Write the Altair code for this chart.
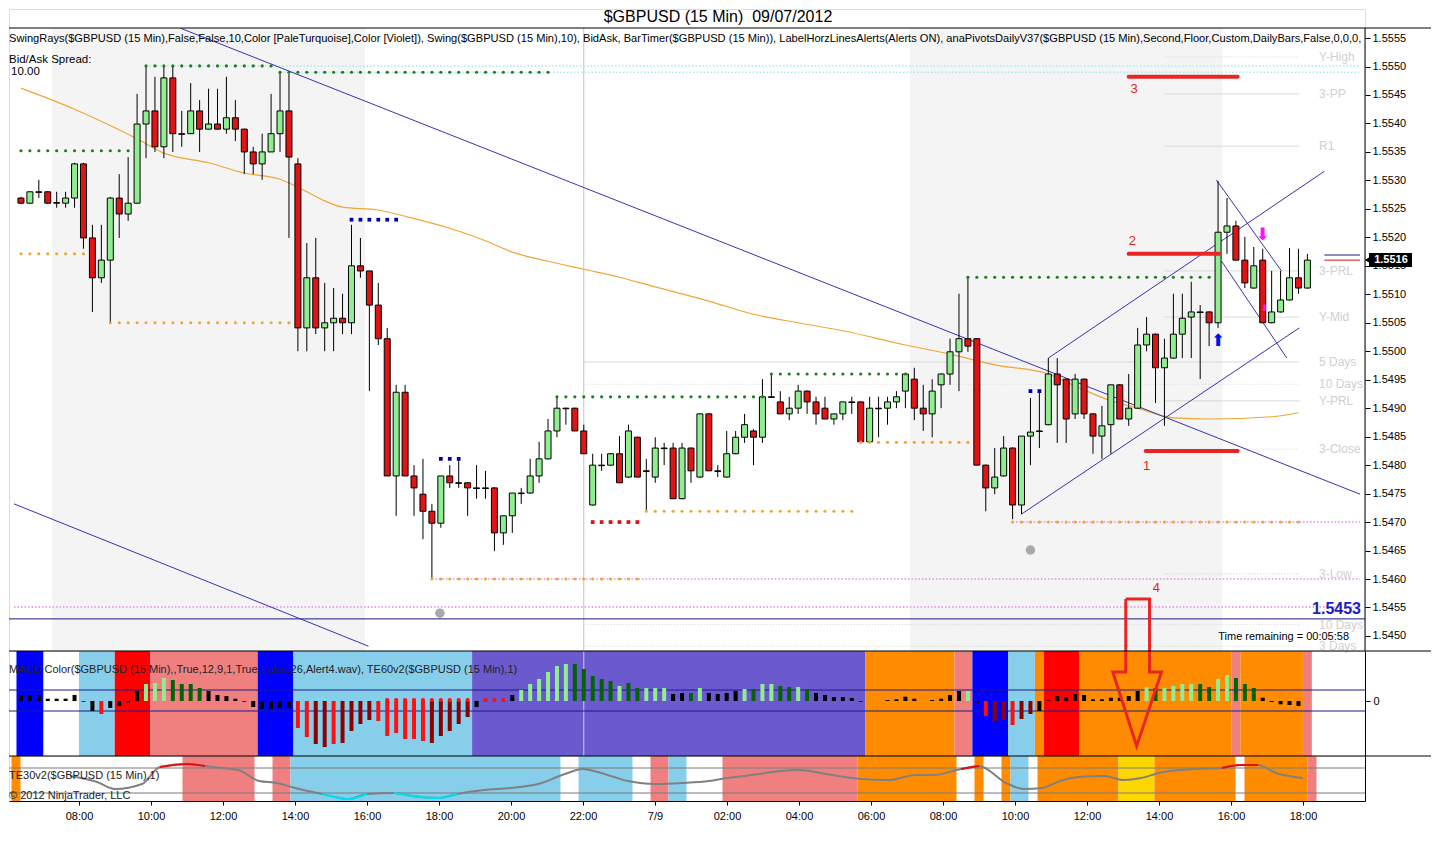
import altair as alt
import pandas as pd

# ---------------------------------------------------------------- data
bar_open = [1.55269,1.55260,1.55280,1.55280,1.55260,1.55260,1.55269,1.55329,1.55199,1.55129,
            1.55160,1.55269,1.55241,1.55260,1.55399,1.55422,1.55359,1.55480,1.55382,1.55382,
            1.55422,1.55390,1.55399,1.55390,1.55410,1.55390,1.55350,1.55329,1.55350,1.55382,
            1.55422,1.55329,1.55041,1.55129,1.55041,1.55050,1.55058,1.55050,1.55150,1.55141,
            1.55081,1.55022,1.54781,1.54928,1.54781,1.54749,1.54719,1.54698,1.54781,1.54769,
            1.54769,1.54760,1.54760,1.54760,1.54681,1.54711,1.54751,1.54751,1.54781,1.54811,
            1.54860,1.54900,1.54900,1.54860,1.54730,1.54800,1.54800,1.54820,1.54779,1.54849,
            1.54790,1.54779,1.54830,1.54830,1.54741,1.54830,1.54779,1.54890,1.54790,1.54779,
            1.54820,1.54849,1.54860,1.54849,1.54920,1.54911,1.54890,1.54900,1.54930,1.54911,
            1.54900,1.54881,1.54890,1.54911,1.54911,1.54841,1.54900,1.54900,1.54911,1.54930,
            1.54951,1.54900,1.54890,1.54941,1.54960,1.54999,1.55022,1.55022,1.54800,1.54760,
            1.54781,1.54830,1.54730,1.54851,1.54860,1.54871,1.54960,1.54951,1.54890,1.54951,
            1.54890,1.54851,1.54871,1.54941,1.54881,1.54900,1.55011,1.55030,1.54971,1.54988,
            1.55030,1.55060,1.55069,1.55069,1.55050,1.55209,1.55220,1.55160,1.55111,1.55160,
            1.55050,1.55069,1.55090,1.55129,1.55111]
bar_high = [1.55271,1.55281,1.55301,1.55281,1.55280,1.55280,1.55331,1.55331,1.55222,1.55222,
            1.55271,1.55311,1.55341,1.55452,1.55501,1.55482,1.55501,1.55501,1.55422,1.55471,
            1.55441,1.55461,1.55461,1.55482,1.55441,1.55391,1.55359,1.55382,1.55452,1.55490,
            1.55487,1.55339,1.55190,1.55199,1.55120,1.55111,1.55101,1.55222,1.55199,1.55141,
            1.55120,1.55041,1.54941,1.54941,1.54800,1.54811,1.54732,1.54781,1.54800,1.54811,
            1.54770,1.54800,1.54790,1.54761,1.54711,1.54751,1.54760,1.54811,1.54841,1.54881,
            1.54921,1.54901,1.54901,1.54871,1.54820,1.54820,1.54821,1.54851,1.54871,1.54850,
            1.54811,1.54849,1.54839,1.54839,1.54839,1.54831,1.54891,1.54891,1.54800,1.54860,
            1.54860,1.54890,1.54863,1.54951,1.54960,1.54930,1.54920,1.54941,1.54931,1.54920,
            1.54920,1.54890,1.54911,1.54920,1.54912,1.54920,1.54920,1.54920,1.54930,1.54961,
            1.54971,1.54941,1.54951,1.54961,1.55022,1.55101,1.55132,1.55023,1.54801,1.54830,
            1.54851,1.54831,1.54851,1.54918,1.54930,1.54988,1.54988,1.54952,1.54960,1.54952,
            1.54891,1.54904,1.54941,1.54942,1.54960,1.55041,1.55060,1.55031,1.55022,1.55101,
            1.55101,1.55122,1.55081,1.55070,1.55299,1.55269,1.55229,1.55201,1.55183,1.55180,
            1.55141,1.55141,1.55181,1.55180,1.55171]
bar_low = [1.55259,1.55259,1.55269,1.55259,1.55252,1.55252,1.55252,1.55180,1.55069,1.55120,
           1.55051,1.55199,1.55229,1.55259,1.55339,1.55350,1.55339,1.55350,1.55359,1.55382,
           1.55350,1.55390,1.55390,1.55382,1.55369,1.55311,1.55311,1.55301,1.55350,1.55350,
           1.55199,1.55000,1.55000,1.55030,1.55000,1.55000,1.55030,1.55030,1.55129,1.54930,
           1.55011,1.54781,1.54711,1.54781,1.54711,1.54670,1.54602,1.54690,1.54760,1.54760,
           1.54711,1.54741,1.54741,1.54649,1.54660,1.54681,1.54732,1.54750,1.54769,1.54810,
           1.54849,1.54871,1.54860,1.54820,1.54729,1.54790,1.54799,1.54769,1.54778,1.54779,
           1.54719,1.54769,1.54800,1.54741,1.54740,1.54769,1.54778,1.54790,1.54779,1.54778,
           1.54819,1.54839,1.54800,1.54839,1.54919,1.54890,1.54879,1.54890,1.54890,1.54871,
           1.54881,1.54871,1.54879,1.54890,1.54841,1.54840,1.54849,1.54871,1.54900,1.54900,
           1.54879,1.54860,1.54849,1.54900,1.54941,1.54930,1.54999,1.54800,1.54719,1.54749,
           1.54780,1.54705,1.54714,1.54800,1.54830,1.54870,1.54839,1.54839,1.54881,1.54881,
           1.54820,1.54811,1.54820,1.54881,1.54869,1.54899,1.55000,1.54909,1.54869,1.54987,
           1.54988,1.54988,1.54951,1.55009,1.55041,1.55171,1.55160,1.55111,1.55110,1.55050,
           1.55049,1.55068,1.55089,1.55101,1.55110]
bar_close = [1.55260,1.55280,1.55279,1.55260,1.55261,1.55269,1.55329,1.55199,1.55129,1.55160,
             1.55269,1.55241,1.55260,1.55399,1.55422,1.55359,1.55480,1.55382,1.55381,1.55422,
             1.55390,1.55399,1.55390,1.55410,1.55390,1.55350,1.55329,1.55350,1.55382,1.55422,
             1.55341,1.55041,1.55129,1.55041,1.55050,1.55058,1.55050,1.55150,1.55141,1.55081,
             1.55022,1.54781,1.54928,1.54781,1.54760,1.54719,1.54698,1.54781,1.54769,1.54768,
             1.54760,1.54759,1.54759,1.54681,1.54711,1.54751,1.54750,1.54781,1.54811,1.54860,
             1.54900,1.54899,1.54860,1.54820,1.54800,1.54799,1.54820,1.54769,1.54860,1.54779,
             1.54789,1.54830,1.54829,1.54741,1.54830,1.54790,1.54890,1.54790,1.54789,1.54820,
             1.54849,1.54871,1.54849,1.54920,1.54919,1.54890,1.54900,1.54930,1.54911,1.54890,
             1.54881,1.54890,1.54911,1.54910,1.54841,1.54900,1.54899,1.54911,1.54920,1.54960,
             1.54900,1.54890,1.54930,1.54960,1.54999,1.55022,1.55009,1.54800,1.54760,1.54779,
             1.54830,1.54730,1.54851,1.54858,1.54859,1.54960,1.54941,1.54881,1.54951,1.54890,
             1.54851,1.54869,1.54941,1.54881,1.54900,1.55011,1.55030,1.54971,1.54988,1.55030,
             1.55058,1.55069,1.55068,1.55050,1.55209,1.55220,1.55160,1.55120,1.55150,1.55050,
             1.55069,1.55090,1.55129,1.55111,1.55160]

sma_bar = [0,6,13,16,21,25,29,32,34,36,40,43,48,52,55,59,63,67,71,77,
           82,87,92,99,104,109,115,118,122,125,129,133,140,143]
sma_price = [1.55462,1.55425,1.55373,1.55348,1.55331,1.55313,1.55302,1.55280,1.55264,1.55253,
             1.55248,1.55237,1.55216,1.55194,1.55174,1.55158,1.55144,1.55130,1.55113,1.55088,
             1.55065,1.55050,1.55036,1.55011,1.54995,1.54976,1.54960,1.54939,1.54913,1.54900,
             1.54883,1.54881,1.54885,1.54892]

swing_start = [0,14,29,60,84,106, 0,10,46,70,94,111, 37,47,113, 64]
swing_end   = [12,28,59,83,99,133, 7,30,69,93,106,143, 42,49,114, 69]
swing_price = [1.55352,1.55501,1.55490,1.54920,1.54960,1.55130,
               1.55171,1.55050,1.54600,1.54719,1.54840,1.54700,
               1.55231,1.54811,1.54930, 1.54700]
swing_kind  = ["hi","hi","hi","hi","hi","hi","lo","lo","lo","lo","lo","lo","hb","hb","hb","lr"]

ray_start = [14, 29, 46, 111, -0.7778]
ray_price = [1.55501, 1.55490, 1.54600, 1.54700, 1.54551]
ray_color = ["#a8e8ee", "#a8e8ee", "#e68ae6", "#e68ae6", "#e68ae6"]

pivot_label = ["Y-High","3-PP","R1","3-PRL","Y-Mid","5 Days","10 Days","Y-PRL","3-Close","3-Low","10 Days","3 Days"]
pivot_start = [128,128,128,128,128,63,63,128,128,128,63,63]
pivot_price = [1.55517,1.55452,1.55360,1.55141,1.55060,1.54981,1.54942,1.54913,1.54828,1.54609,1.54520,1.54482]
pivot_dash  = ["dot","solid","solid","solid","solid","solid","dot","solid","dot","dot","dot","dot"]
pivot_color = ["#d4d4d4","#d4d4d4","#d4d4d4","#d4d4d4","#d4d4d4","#d4d4d4","#d4d4d4","#d4d4d4","#d4d4d4","#eeaaee","#d4d4d4","#d4d4d4"]

trend_x1 = [17.9, -0.7778, 112.0, 115.0, 133.8, 134.4]
trend_p1 = [1.55567, 1.54732, 1.54714, 1.54988, 1.55301, 1.55158]
trend_x2 = [149.889, 38.9, 143.1, 145.9, 141.1, 141.7]
trend_p2 = [1.54749, 1.54482, 1.55041, 1.55316, 1.55141, 1.54988]

sess_start = [3.5, 99.5]
sess_end = [38.5, 134.5]

ann_x1 = [124.0, 124.0, 125.9]
ann_x2 = [136.2, 134.1, 136.2]
ann_price = [1.55482, 1.55171, 1.54825]
ann_label = ["3", "2", "1", "4"]
ann_label_x = [124.6, 124.4, 126.0, 127.1]
ann_label_p = [1.55460, 1.55194, 1.54798, 1.54584]

arrow_bar = [134.0, 139.0, 139.2]
arrow_price = [1.55018, 1.55204, 1.55076]
arrow_glyph = ["\u2b06", "\u2b07", "\u2b07"]
arrow_color = ["#0010ff", "#ff10ff", "#ff10ff"]

circle_bar = [46.9, 113.0]
circle_price = [1.54540, 1.54651]

price_ticks = [1.5450,1.5455,1.5460,1.5465,1.5470,1.5475,1.5480,1.5485,1.5490,1.5495,1.5500,
               1.5505,1.5510,1.5515,1.5520,1.5525,1.5530,1.5535,1.5540,1.5545,1.5550,1.5555]
time_tick_bar = [7,15,23,31,39,47,55,63,71,79,87,95,103,111,119,127,135,143]
time_tick_label = ["08:00","10:00","12:00","14:00","16:00","18:00","20:00","22:00","7/9",
                   "02:00","04:00","06:00","08:00","10:00","12:00","14:00","16:00","18:00"]

# MACD histogram (x1e-5) and colour codes
macd_hist = [6,6,6,2.3,2.3,2.3,6,-0.7,-10,-13,
             -7,-5,-1.5,10,17,18,23,21,17,17,
             13,10,6,5,2.3,-0.7,-6,-8,-8,-7,
             -7,-27,-36,-43,-46,-43,-42,-30,-23,-19,
             -20,-35,-32,-38,-38,-40,-42,-35,-30,-23,
             -16,-6,-1,-1,-1,6,11,17,22,29,
             35,37,37,32,25,22,20,15,18,13,
             13,13,13,7,8,8,13,8,7,8,
             10,12,12,17,17,15,14,14,12,8,
             6,4,4,3,-0.7,0,0,1,1.7,4.3,
             2.3,0,1,2.3,6,10,10,-1.7,-15,-20,
             -19,-24,-18,-13,-10,0.7,5,4,7,6,
             1.7,1.7,3.3,3.3,5,10,14,13,13,15,
             17,17,17,14,22,26,23,17,13,3.3,
             -1,-3.3,-4,-5,0]
macd_code = ["k","k","k","k","k","k","k","k","k","r",
             "k","k","k","k","lg","lg","lg","dg","dg","dg",
             "dg","k","k","k","k","k","k","k","k","k",
             "k","r","r","dr","dr","r","dr","dr","dr","dr",
             "r","r","r","r","r","r","dr","dr","dr","dr",
             "dr","k","r","r","r","k","lg","lg","lg","lg",
             "lg","lg","dg","dg","dg","dg","dg","lg","dg","dg",
             "lg","lg","lg","k","k","dg","lg","k","k","k",
             "k","lg","dg","lg","lg","dg","dg","lg","dg","k",
             "k","k","k","k","k","k","k","k","k","k",
             "k","k","k","k","k","k","lg","k","r","dr",
             "dr","r","dr","dr","k","k","k","k","k","k",
             "k","k","k","k","k","k","lg","dg","lg","lg",
             "lg","lg","dg","dg","lg","lg","dg","dg","dg","k",
             "k","k","k","k","k"]
macd_dot_bar = [41,42,43,44,45,46,47,48,49,50,52,53,54]
macd_levels = [11, -10]

macd_band_start = [0,7,11,15,27,31,51,95,105,107,111,114,115,119,136,137,144]
macd_band_end   = [2,10,14,26,30,50,94,104,106,110,113,114,118,135,136,143,144]
macd_band_color = ["#0000ff","#87ceeb","#ff0000","#f08080","#0000ff","#87ceeb","#6a5acd",
                   "#ff8c00","#f08080","#0000ff","#87ceeb","#ff8c00","#ff0000","#ff8c00",
                   "#f08080","#ff8c00","#f08080"]

te_band_start = [0,19,29,31,63,71,73,79,94,107,110,111,114,123,127,137,144]
te_band_end   = [0,26,30,60,68,72,74,93,104,107,110,112,122,126,135,143,144]
te_band_color = ["#ff8c00","#f08080","#f08080","#87ceeb","#87ceeb","#f08080","#87ceeb",
                 "#f08080","#ff8c00","#ff8c00","#ff8c00","#87ceeb","#ff8c00","#ffd700",
                 "#ff8c00","#ff8c00","#f08080"]

te_bar = [6,9,11,14,16,19,21,23,25,27,29,31,34,37,39,42,44,47,49,52,
          55,58,61,63,65,68,71,74,77,79,81,85,87,90,94,97,100,102,105,107,
          110,112,114,116,118,121,123,125,127,131,134,136,138,140,143]
te_value = [0.36,-0.12,-0.68,-0.28,1.08,1.32,1.16,1.0,0.76,-0.04,
            -0.2,-0.6,-1.08,-1.48,-1.08,-1.0,-1.24,-1.4,-1.08,-0.76,
            -0.6,-0.28,0.52,0.92,0.6,-0.04,-0.28,-0.2,-0.04,0.2,
            0.36,0.76,0.84,0.52,0.12,0.04,0.44,0.44,0.92,1.16,
            -0.2,-0.68,-0.6,-0.04,0.28,0.36,0.04,0.2,0.6,0.92,
            1.0,1.24,1.24,0.6,0.2]
te_red_segments = [[16,19,21],[105,107],[134,136,138]]
te_cyan_segments = [[34,37,39],[42,44,47,49]]
te_levels = [1.0, -1.0]

big_arrow_bar = [123.67,126.33,126.33,127.67,124.89,122.22,123.67,123.67]
big_arrow_val = [102,102,29,29,-45,29,29,102]

title_text = "$GBPUSD (15 Min) \u00a009/07/2012"
indicator_text = ("SwingRays($GBPUSD (15 Min),False,False,10,Color [PaleTurquoise],Color [Violet]), "
                  "Swing($GBPUSD (15 Min),10), BidAsk, BarTimer($GBPUSD (15 Min)), "
                  "LabelHorzLinesAlerts(Alerts ON), anaPivotsDailyV37($GBPUSD (15 Min),Second,Floor,"
                  "Custom,DailyBars,False,0,0,0,")
macd_text = "MACD Color($GBPUSD (15 Min),,True,12,9,1,True,False,26,Alert4.wav), TE60v2($GBPUSD (15 Min),1)"
te_text = "TE30v2($GBPUSD (15 Min),1)"

# ---------------------------------------------------------------- layout
W = 1356
EXT = 66  # frame lines continue right of the price axis
H_MAIN, H_MACD, H_TE = 642, 105, 45
X_DOMAIN = [-0.7778, 149.889]
P_DOMAIN = [1.544736, 1.55601]
P_TOP = 1.555676
M_DOMAIN = [-55, 50]
T_DOMAIN = [-1.64, 1.96]
FONT = "Liberation Sans"
one = pd.DataFrame({"a": [0]})

XS = alt.Scale(domain=X_DOMAIN, nice=False, zero=False)
label_expr = ("[" + ",".join("'%s'" % t for t in time_tick_label) + "][indexof(["
              + ",".join(str(b) for b in time_tick_bar) + "], datum.value)]")
x_axis = alt.Axis(values=time_tick_bar, labelExpr=label_expr, title=None, grid=False,
                  tickSize=4, tickColor="black", domainColor="black", labelColor="black",
                  labelFontSize=11, labelFont=FONT, labelPadding=5, labelOverlap=False,
                  labelFlush=False)


def XN(f):
    return alt.X(f, type="quantitative", scale=XS, axis=None)


def XT(f):
    return alt.X(f, type="quantitative", scale=XS, axis=x_axis)


main_axis = alt.Axis(orient="right", values=price_ticks, format=".4f", title=None, grid=False,
                     domain=False, tickSize=5, tickColor="black", labelColor="black",
                     labelFontSize=11, labelFont=FONT, labelPadding=2)
macd_axis = alt.Axis(orient="right", values=[0], title=None, grid=False, domainColor="black",
                     tickSize=5, tickColor="black", labelColor="black", labelFontSize=11,
                     labelFont=FONT, labelPadding=3)
te_axis = alt.Axis(orient="right", title=None, grid=False, labels=False, ticks=False,
                   domainColor="black")


def YM(f):
    return alt.Y(f, type="quantitative", scale=alt.Scale(domain=P_DOMAIN, nice=False, zero=False), axis=main_axis)


def YMA(f):
    return alt.Y(f, type="quantitative", scale=alt.Scale(domain=M_DOMAIN, nice=False, zero=False), axis=macd_axis)


def YT(f):
    return alt.Y(f, type="quantitative", scale=alt.Scale(domain=T_DOMAIN, nice=False, zero=False), axis=te_axis)


# ---------------------------------------------------------------- main panel
bars = pd.DataFrame({"i": list(range(len(bar_open))), "o": bar_open, "h": bar_high,
                     "l": bar_low, "c": bar_close})
sess = pd.DataFrame({"s": sess_start, "e": sess_end, "t": P_TOP, "b": P_DOMAIN[0]})
divider = pd.DataFrame({"i": [63], "t": [P_TOP], "b": [P_DOMAIN[0]]})
pivots = pd.DataFrame({"s": pivot_start, "e": 143.1, "p": pivot_price, "dash": pivot_dash,
                       "col": pivot_color, "lab": pivot_label, "lx": 145.3})
rays = pd.DataFrame({"s": ray_start, "e": X_DOMAIN[1], "p": ray_price, "col": ray_color})
trends = pd.DataFrame({"x1": trend_x1, "p1": trend_p1, "x2": trend_x2, "p2": trend_p2})
sma = pd.DataFrame({"i": sma_bar, "p": sma_price})
rows = []
for s, e, p, k in zip(swing_start, swing_end, swing_price, swing_kind):
    for b in range(s, e + 1):
        rows.append({"i": b, "p": p, "k": k})
swings = pd.DataFrame(rows)
ann = pd.DataFrame({"x1": ann_x1, "x2": ann_x2, "p": ann_price})
ann_lab = pd.DataFrame({"i": ann_label_x, "p": ann_label_p, "t": ann_label})
arrows = pd.DataFrame({"i": arrow_bar, "p": arrow_price, "g": arrow_glyph, "col": arrow_color,
                       "sz": [17, 17, 9]})
circles = pd.DataFrame({"i": circle_bar, "p": circle_price})
level = pd.DataFrame({"p": [1.5453]})
last_lines = pd.DataFrame({"s": [145.9, 145.9], "e": [X_DOMAIN[1], X_DOMAIN[1]],
                           "p": [1.55169, 1.55160], "col": ["#1a1a8c", "#d01010"]})
frame_right = pd.DataFrame({"t": [P_TOP], "b": [P_DOMAIN[0]]})

main_layers = [
    alt.Chart(sess).mark_rect(color="#f4f4f4").encode(x=XN("s"), x2="e", y=YM("t"), y2="b"),
    alt.Chart(divider).mark_rule(color="#c4c4c4").encode(x=XN("i"), y=YM("t"), y2="b"),
    alt.Chart(pivots).mark_rule(strokeWidth=1).encode(
        x=XN("s"), x2="e", y=YM("p"), color=alt.Color("col:N", scale=None),
        strokeDash=alt.StrokeDash("dash:N", scale=alt.Scale(domain=["solid", "dot"], range=[[1, 0], [1, 2]]), legend=None)),
    alt.Chart(pivots).mark_text(align="left", baseline="middle", fontSize=12, color="#d0d0d0").encode(
        x=XN("lx"), y=YM("p"), text="lab:N"),
    alt.Chart(rays).mark_rule(strokeDash=[1.5, 2], strokeWidth=1.5).encode(
        x=XN("s"), x2="e", y=YM("p"), color=alt.Color("col:N", scale=None)),
    alt.Chart(level).mark_rule(color="#1a1a80", strokeWidth=1).encode(
        x=alt.value(0), x2=alt.value(W), y=YM("p")),
    alt.Chart(sma).mark_line(color="#f0a637", strokeWidth=1.2, interpolate="monotone").encode(
        x=XN("i"), y=YM("p")),
    alt.Chart(trends).mark_rule(color="#3434b0", strokeWidth=1).encode(
        x=XN("x1"), x2="x2", y=YM("p1"), y2="p2"),
    alt.Chart(bars).mark_rule(color="black", strokeWidth=1).encode(x=XN("i"), y=YM("l"), y2="h"),
    alt.Chart(bars).mark_bar(size=6, stroke="black", strokeWidth=1).encode(
        x=XN("i"), y=YM("o"), y2="c",
        fill=alt.condition("datum.c > datum.o", alt.value("#90ee90"), alt.value("#e01414"))),
]
dot_styles = {"hi": ("#1b7d1b", "circle", 10), "lo": ("#f0a834", "circle", 10),
              "hb": ("#0000a8", "square", 14), "lr": ("#d41414", "square", 14)}
for k, (col, shp, sz) in dot_styles.items():
    main_layers.append(
        alt.Chart(swings[swings.k == k]).mark_point(filled=True, shape=shp, size=sz, color=col,
                                                    opacity=1, strokeWidth=0).encode(
            x=XN("i"), y=YM("p")))
main_layers += [
    alt.Chart(ann).mark_rule(color="#e82424", strokeWidth=4, strokeCap="round").encode(
        x=XN("x1"), x2="x2", y=YM("p")),
    alt.Chart(ann_lab).mark_text(color="#e02424", fontSize=13, align="center", baseline="middle").encode(
        x=XN("i"), y=YM("p"), text="t:N"),
    alt.Chart(arrows).mark_text(font="DejaVu Sans", align="center", baseline="middle").encode(
        x=XN("i"), y=YM("p"), text="g:N", color=alt.Color("col:N", scale=None),
        size=alt.Size("sz:Q", scale=None)),
    alt.Chart(circles).mark_circle(size=90, color="#a9a9a9", opacity=1).encode(x=XN("i"), y=YM("p")),
    alt.Chart(last_lines).mark_rule(strokeWidth=1).encode(
        x=XN("s"), x2="e", y=YM("p"), color=alt.Color("col:N", scale=None)),
    # frame
    alt.Chart(one).mark_rule(color="black").encode(x=alt.value(0), x2=alt.value(W + EXT), y=alt.value(19)),
    alt.Chart(frame_right).mark_rule(color="black").encode(x=alt.value(W), y=YM("t"), y2="b"),
    # price box
    alt.Chart(one).mark_rect(color="black").encode(x=alt.value(W + 4), x2=alt.value(W + 47),
                                                   y=alt.value(244), y2=alt.value(258)),
    alt.Chart(one).mark_point(shape="triangle-left", filled=True, size=60, color="black", opacity=1).encode(
        x=alt.value(W + 3), y=alt.value(251)),
    alt.Chart(one).mark_text(text="1.5516", color="white", fontSize=11, fontWeight="bold",
                             align="center", baseline="middle").encode(x=alt.value(W + 26), y=alt.value(251)),
    # texts
    alt.Chart(one).mark_text(text=title_text, fontSize=16, align="center", baseline="alphabetic",
                             color="black").encode(x=alt.value(709), y=alt.value(13)),
    alt.Chart(one).mark_text(text=indicator_text, fontSize=11.1, align="left", baseline="middle",
                             color="black").encode(x=alt.value(0), y=alt.value(30)),
    alt.Chart(one).mark_text(text="Bid/Ask Spread:", fontSize=11.5, align="left", baseline="middle",
                             color="black").encode(x=alt.value(0), y=alt.value(51)),
    alt.Chart(one).mark_text(text="10.00", fontSize=11.5, align="left", baseline="middle",
                             color="black").encode(x=alt.value(2), y=alt.value(63)),
    alt.Chart(one).mark_text(text="1.5453", fontSize=16, fontWeight="bold", align="right",
                             baseline="middle", color="#1c1cc8").encode(x=alt.value(W - 4), y=alt.value(600)),
    alt.Chart(one).mark_text(text="Time remaining = 00:05:58", fontSize=11, align="right",
                             baseline="middle", color="black").encode(x=alt.value(W - 16), y=alt.value(628)),
]
main = alt.layer(*main_layers).properties(width=W, height=H_MAIN)

# ---------------------------------------------------------------- MACD panel
mbands = pd.DataFrame({"s": [b - 0.5 for b in macd_band_start], "e": [b + 0.5 for b in macd_band_end],
                       "col": macd_band_color})
hist = pd.DataFrame({"i": list(range(len(macd_hist))), "v": macd_hist, "z": 0, "k": macd_code})
mdots = pd.DataFrame({"i": macd_dot_bar, "v": 1})
mlev = pd.DataFrame({"v": macd_levels})
big_arrow = pd.DataFrame({"i": big_arrow_bar, "v": big_arrow_val, "o": list(range(len(big_arrow_bar)))})
mdiv = pd.DataFrame({"i": [63]})

macd_layers = [
    alt.Chart(mbands).mark_rect().encode(x=XN("s"), x2="e", y=alt.value(0), y2=alt.value(H_MACD),
                                          color=alt.Color("col:N", scale=None)),
    alt.Chart(mdiv).mark_rule(color="#d0d0d0").encode(x=XN("i"), y=alt.value(0), y2=alt.value(H_MACD)),
    alt.Chart(mlev).mark_rule(color="#1a1a8c").encode(x=alt.value(0), x2=alt.value(W), y=YMA("v")),
    alt.Chart(hist).mark_bar(size=4).encode(
        x=XN("i"), y=YMA("z"), y2="v",
        color=alt.Color("k:N", scale=alt.Scale(domain=["k", "lg", "dg", "r", "dr"],
                                               range=["#000000", "#90ee90", "#006400", "#ff1010", "#8b0000"]),
                        legend=None)),
    alt.Chart(mdots).mark_circle(size=18, color="#ff1010", opacity=1).encode(x=XN("i"), y=YMA("v")),
    alt.Chart(one).mark_text(text=macd_text, fontSize=11, align="left", baseline="middle",
                             color="#222222").encode(x=alt.value(0), y=alt.value(19)),
    alt.Chart(big_arrow).mark_line(color="#e82424", strokeWidth=3, strokeJoin="miter").encode(
        x=XN("i"), y=YMA("v"), order="o:Q"),
    alt.Chart(one).mark_rule(color="black").encode(x=alt.value(0), x2=alt.value(W + EXT), y=alt.value(0)),
]
macd = alt.layer(*macd_layers).properties(width=W, height=H_MACD)

# ---------------------------------------------------------------- TE30 panel
tbands = pd.DataFrame({"s": [b - 0.5 for b in te_band_start], "e": [b + 0.5 for b in te_band_end],
                       "col": te_band_color})
te = pd.DataFrame({"i": te_bar, "v": te_value})
te_lookup = dict(zip(te_bar, te_value))
seg_rows = []
for col, segs in (("red", te_red_segments), ("cyan", te_cyan_segments)):
    for n, seg in enumerate(segs):
        for b in seg:
            seg_rows.append({"i": b, "v": te_lookup[b], "seg": "%s%d" % (col, n), "col": col})
te_seg = pd.DataFrame(seg_rows)
tlev = pd.DataFrame({"v": te_levels})

te_layers = [
    alt.Chart(tbands).mark_rect().encode(x=XT("s"), x2="e", y=alt.value(0), y2=alt.value(H_TE),
                                          color=alt.Color("col:N", scale=None)),
    alt.Chart(tlev).mark_rule(color="#7a7a7a").encode(x=alt.value(0), x2=alt.value(W), y=YT("v")),
    alt.Chart(te).mark_line(color="#808080", strokeWidth=2, interpolate="monotone").encode(
        x=XT("i"), y=YT("v")),
    alt.Chart(te_seg[te_seg.col == "red"]).mark_line(color="#e01010", strokeWidth=2, interpolate="monotone").encode(
        x=XT("i"), y=YT("v"), detail="seg:N"),
    alt.Chart(te_seg[te_seg.col == "cyan"]).mark_line(color="#00e0f0", strokeWidth=2, interpolate="monotone").encode(
        x=XT("i"), y=YT("v"), detail="seg:N"),
    alt.Chart(one).mark_text(text=te_text, fontSize=11, align="left", baseline="middle",
                             color="#222222").encode(x=alt.value(0), y=alt.value(20)),
    alt.Chart(one).mark_text(text="\u00a9 2012 NinjaTrader, LLC", fontSize=11, align="left",
                             baseline="middle", color="#222222").encode(x=alt.value(0), y=alt.value(40)),
    alt.Chart(one).mark_rule(color="black").encode(x=alt.value(0), x2=alt.value(W + EXT), y=alt.value(0)),
]
te_chart = alt.layer(*te_layers).properties(width=W, height=H_TE)

chart = alt.vconcat(main, macd, te_chart, spacing=0, bounds="flush", padding=0).resolve_scale(
    x="independent", y="independent"
).configure_view(stroke=None).configure(font=FONT, background="white")

chart.save("out.html", embed_options={"renderer": "svg", "actions": False})
